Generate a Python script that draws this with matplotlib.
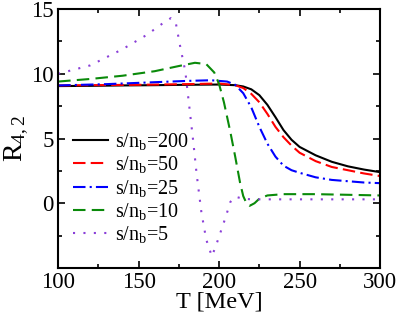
import matplotlib
matplotlib.use("Agg")
import matplotlib.pyplot as plt
from matplotlib.ticker import MultipleLocator

plt.rcParams['font.family'] = ['Liberation Serif', 'DejaVu Serif']
plt.rcParams['mathtext.fontset'] = 'custom'
plt.rcParams['mathtext.rm'] = 'Liberation Serif'
plt.rcParams['mathtext.it'] = 'Liberation Serif:italic'

# s/n_b = 200
t_200 = [100, 120, 140, 160, 180, 200, 210, 215, 220, 225, 230, 235, 240, 245, 250, 260, 270, 280, 290, 300]
r_200 = [9.05, 9.07, 9.1, 9.12, 9.15, 9.17, 9.12, 9.02, 8.8, 8.35, 7.6, 6.65, 5.65, 4.9, 4.35, 3.7, 3.2, 2.85, 2.6, 2.4]

# s/n_b = 50
t_50 = [100, 150, 180, 200, 210, 215, 220, 225, 230, 235, 240, 245, 250, 260, 270, 280, 290, 300]
r_50 = [9.1, 9.15, 9.2, 9.25, 9.12, 8.9, 8.45, 7.8, 6.9, 5.9, 5.1, 4.45, 3.9, 3.25, 2.8, 2.55, 2.3, 2.1]

# s/n_b = 25
t_25 = [100, 130, 160, 180, 195, 205, 210, 215, 220, 225, 230, 235, 240, 245, 250, 260, 270, 280, 290, 300]
r_25 = [9.1, 9.2, 9.35, 9.45, 9.5, 9.4, 9.15, 8.5, 7.4, 5.9, 4.6, 3.6, 2.9, 2.55, 2.35, 2.0, 1.8, 1.7, 1.6, 1.55]

# s/n_b = 10
t_10 = [100, 120, 140, 160, 175, 185, 192, 197, 200, 203, 207, 210, 213, 215, 217, 219, 222, 225, 230, 240, 260, 280, 300]
r_10 = [9.4, 9.6, 9.85, 10.2, 10.6, 10.85, 10.75, 10.1, 9.2, 7.8, 5.5, 3.6, 1.6, 0.55, 0.0, -0.2, 0.0, 0.35, 0.6, 0.7, 0.7, 0.65, 0.6]

# s/n_b = 5
t_5 = [100, 120, 140, 155, 165, 170, 173, 176, 179, 181, 184, 186, 189, 192, 195.5, 198, 201, 204, 207, 210, 215, 220, 300]
r_5 = [10.0, 10.65, 11.9, 13.0, 13.9, 14.3, 14.0, 12.0, 10.2, 8.0, 4.7, 2.3, -0.7, -2.8, -4.1, -3.3, -2.2, -1.1, 0.1, 0.5, 0.35, 0.3, 0.3]

fig = plt.figure(figsize=(3.98, 3.13), dpi=100)
ax = fig.add_axes([0.146, 0.144, 0.809, 0.827])

lw = 1.5
ax.plot(t_200, r_200, color='black', lw=lw, label=r's/n$_\mathrm{b}$=200')
ax.plot(t_50, r_50, color='red', lw=lw, dashes=(6, 2.5), label=r's/n$_\mathrm{b}$=50')
ax.plot(t_25, r_25, color='blue', lw=lw, dashes=(6, 2, 1, 2), label=r's/n$_\mathrm{b}$=25')
ax.plot(t_10, r_10, color='#0a8a0a', lw=lw, dashes=(6, 3), label=r's/n$_\mathrm{b}$=10')
ax.plot(t_5, r_5, color='#8a3fd8', lw=lw, dashes=(1, 4), label=r's/n$_\mathrm{b}$=5')

ax.set_xlim(100, 300)
ax.set_ylim(-5, 15)
ax.xaxis.set_major_locator(MultipleLocator(50))
ax.xaxis.set_minor_locator(MultipleLocator(25))
ax.yaxis.set_minor_locator(MultipleLocator(2.5))
ax.set_yticks([0, 5, 10, 15])
ax.tick_params(which='both', direction='in', top=True, right=True, width=1.2, labelsize=16.5)
ax.tick_params(which='major', length=5, pad=3)
ax.tick_params(which='minor', length=3)
for s in ax.spines.values():
    s.set_linewidth(1.5)

ax.set_xlabel('T [MeV]', fontsize=17.5, labelpad=-1)
ax.set_ylabel(r'R$_{4,2}$', fontsize=20, labelpad=0)

ax.legend(loc='upper left', bbox_to_anchor=(0.047, 0.53), frameon=False, fontsize=14.5,
          borderpad=0, borderaxespad=0, handlelength=1.75, handletextpad=0.3,
          labelspacing=0.12)

fig.savefig('out.png', dpi=100)
